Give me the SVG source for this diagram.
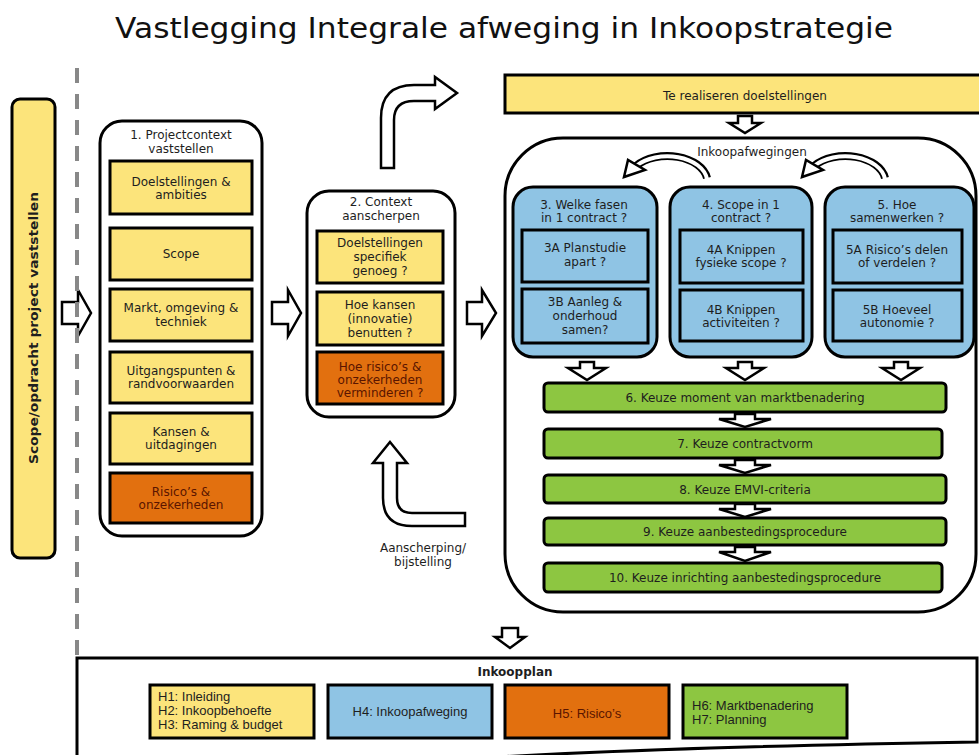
<svg xmlns="http://www.w3.org/2000/svg" width="979" height="755" viewBox="0 0 979 755">
<style>
  text { font-family: "DejaVu Sans", Verdana, sans-serif; font-size: 12px; fill: #1e1e1e; text-anchor: middle; }
  .title { font-size: 29px; fill: #111; }
  .bold { font-weight: bold; }
  .outer { fill: #fff; stroke: #000; stroke-width: 3; }
  .yel { fill: #fce47b; stroke: #000; stroke-width: 3; }
  .ora { fill: #e2700f; stroke: #000; stroke-width: 3; }
  .blu { fill: #8fc4e4; stroke: #000; stroke-width: 3; }
  .grn { fill: #8dc641; stroke: #000; stroke-width: 3; }
  .arr { fill: #fff; stroke: #000; stroke-width: 2.5; stroke-linejoin: miter; }
  .dark { fill: #5a1500; }
  .plan { font-family: "Liberation Sans", Arial, sans-serif; font-size: 13px; }
  .left { text-anchor: start; }
</style>

<text class="title" x="504" y="38" textLength="778" lengthAdjust="spacingAndGlyphs">Vastlegging Integrale afweging in Inkoopstrategie</text>

<g id="scope-bar">
  <rect class="yel" x="12" y="99" width="43" height="459" rx="8"/>
  <text class="bold" transform="translate(38,328) rotate(-90)" x="0" y="0" font-size="12.5" textLength="272" lengthAdjust="spacingAndGlyphs">Scope/opdracht project vaststellen</text>
</g>

<g id="projectcontext">
  <rect class="outer" x="100" y="121" width="162" height="415" rx="22"/>
  <text x="181" y="139">1. Projectcontext</text>
  <text x="181" y="153">vaststellen</text>
  <rect class="yel" x="110" y="161" width="142" height="53"/>
  <text x="181" y="186">Doelstellingen &amp;</text>
  <text x="181" y="199">ambities</text>
  <rect class="yel" x="110" y="228" width="142" height="52"/>
  <text x="181" y="258">Scope</text>
  <rect class="yel" x="110" y="289" width="142" height="52"/>
  <text x="181" y="312">Markt, omgeving &amp;</text>
  <text x="181" y="326">techniek</text>
  <rect class="yel" x="110" y="352" width="142" height="51"/>
  <text x="181" y="375">Uitgangspunten &amp;</text>
  <text x="181" y="388">randvoorwaarden</text>
  <rect class="yel" x="110" y="413" width="142" height="51"/>
  <text x="181" y="436">Kansen &amp;</text>
  <text x="181" y="449">uitdagingen</text>
  <rect class="ora" x="110" y="473" width="142" height="50"/>
  <text class="dark" x="181" y="496">Risico’s &amp;</text>
  <text class="dark" x="181" y="509">onzekerheden</text>
</g>

<g id="context">
  <rect class="outer" x="307" y="191" width="148" height="226" rx="22"/>
  <text x="381" y="206">2. Context</text>
  <text x="381" y="220">aanscherpen</text>
  <rect class="yel" x="317" y="231" width="126" height="52"/>
  <text x="380" y="247">Doelstellingen</text>
  <text x="380" y="261">specifiek</text>
  <text x="380" y="275">genoeg ?</text>
  <rect class="yel" x="317" y="292" width="126" height="53"/>
  <text x="380" y="309">Hoe kansen</text>
  <text x="380" y="323">(innovatie)</text>
  <text x="380" y="337">benutten ?</text>
  <rect class="ora" x="317" y="352" width="126" height="52"/>
  <text class="dark" x="380" y="371">Hoe risico’s &amp;</text>
  <text class="dark" x="380" y="384">onzekerheden</text>
  <text class="dark" x="380" y="397">verminderen ?</text>
</g>

<g id="aanscherping-label">
  <text x="423" y="552">Aanscherping/</text>
  <text x="423" y="566">bijstelling</text>
</g>

<g id="doelstellingen">
  <rect class="yel" x="505" y="75" width="480" height="38"/>
  <text x="745" y="100">Te realiseren doelstellingen</text>
</g>

<g id="inkoopafwegingen">
  <rect class="outer" x="505" y="138" width="471" height="474" rx="58"/>
  <text x="752" y="156">Inkoopafwegingen</text>
  <path d="M707 178 A40 26 0 0 0 636 166" fill="none" stroke="#000" stroke-width="8"/>
  <path d="M707 179 A40 26 0 0 0 636 166" fill="none" stroke="#fff" stroke-width="4"/>
  <polygon class="arr" stroke-width="2" points="624,177 628,160 645,170"/>
  <path d="M885 178 A40 26 0 0 0 814 166" fill="none" stroke="#000" stroke-width="8"/>
  <path d="M885 179 A40 26 0 0 0 814 166" fill="none" stroke="#fff" stroke-width="4"/>
  <polygon class="arr" stroke-width="2" points="802,177 806,160 823,170"/>
</g>

<g id="fasen">
  <rect class="blu" x="513" y="187" width="144" height="170" rx="20"/>
  <text x="584" y="209">3. Welke fasen</text>
  <text x="584" y="222">in 1 contract ?</text>
  <rect class="blu" x="522" y="230" width="126" height="52"/>
  <text x="585" y="252">3A Planstudie</text>
  <text x="585" y="266">apart ?</text>
  <rect class="blu" x="522" y="289" width="126" height="54"/>
  <text x="585" y="306">3B Aanleg &amp;</text>
  <text x="585" y="320">onderhoud</text>
  <text x="585" y="334">samen?</text>
</g>

<g id="scope-contract">
  <rect class="blu" x="670" y="187" width="142" height="170" rx="20"/>
  <text x="741" y="209">4. Scope in 1</text>
  <text x="741" y="222">contract ?</text>
  <rect class="blu" x="680" y="230" width="123" height="53"/>
  <text x="741" y="254">4A Knippen</text>
  <text x="741" y="267">fysieke scope ?</text>
  <rect class="blu" x="680" y="290" width="123" height="51"/>
  <text x="741" y="314">4B Knippen</text>
  <text x="741" y="327">activiteiten ?</text>
</g>

<g id="samenwerken">
  <rect class="blu" x="825" y="187" width="149" height="170" rx="20"/>
  <text x="897" y="209">5. Hoe</text>
  <text x="897" y="222">samenwerken ?</text>
  <rect class="blu" x="833" y="230" width="129" height="53"/>
  <text x="897" y="254">5A Risico’s delen</text>
  <text x="897" y="267">of verdelen ?</text>
  <rect class="blu" x="833" y="290" width="129" height="51"/>
  <text x="897" y="314">5B Hoeveel</text>
  <text x="897" y="327">autonomie ?</text>
</g>

<g id="keuze-6"><rect class="grn" x="544" y="383" width="402" height="29" rx="4"/><text x="745" y="402">6. Keuze moment van marktbenadering</text></g>
<g id="keuze-7"><rect class="grn" x="544" y="429" width="398" height="29" rx="4"/><text x="745" y="448">7. Keuze contractvorm</text></g>
<g id="keuze-8"><rect class="grn" x="544" y="475" width="402" height="28" rx="4"/><text x="745" y="494">8. Keuze EMVI-criteria</text></g>
<g id="keuze-9"><rect class="grn" x="544" y="518" width="402" height="27" rx="4"/><text x="745" y="536">9. Keuze aanbestedingsprocedure</text></g>
<g id="keuze-10"><rect class="grn" x="544" y="563" width="398" height="29" rx="4"/><text x="745" y="582">10. Keuze inrichting aanbestedingsprocedure</text></g>

<g id="inkoopplan">
  <path d="M77 758 L77 658 L977 658 L977 742 C850 744 650 748 480 758" fill="#fff" stroke="#000" stroke-width="3"/>
  <text class="bold" x="515" y="676" font-size="13">Inkoopplan</text>
  <rect class="yel" x="150" y="685" width="164" height="53"/>
  <text class="plan left" x="158" y="701">H1: Inleiding</text>
  <text class="plan left" x="158" y="715">H2: Inkoopbehoefte</text>
  <text class="plan left" x="158" y="729">H3: Raming &amp; budget</text>
  <rect class="blu" x="328" y="685" width="164" height="53"/>
  <text class="plan" x="410" y="716">H4: Inkoopafweging</text>
  <rect class="ora" x="505" y="685" width="164" height="53"/>
  <text class="plan dark" x="587" y="718">H5: Risico’s</text>
  <rect class="grn" x="683" y="685" width="164" height="53"/>
  <text class="plan left" x="692" y="710">H6: Marktbenadering</text>
  <text class="plan left" x="692" y="724">H7: Planning</text>
</g>

<g id="connectors">
  <polygon class="arr" points="62,302 78,302 78,290 91,313 78,336 78,324 62,324"/>
  <polygon class="arr" points="272,302 288,302 288,290 301,313 288,336 288,324 272,324"/>
  <polygon class="arr" points="467,302 482,302 482,290 496,313 482,336 482,324 467,324"/>
  <path class="arr" d="M381 168 L381 118 Q381 85 414 85 L435 85 L435 77 L457 93 L435 109 L435 101 L414 101 Q394 101 394 120 L394 168 Z"/>
  <path class="arr" d="M390 442 L407 463 L397 463 L397 498 Q397 513 412 513 L465 513 L465 526 L412 526 Q383 526 383 498 L383 463 L373 463 Z"/>
  <polygon class="arr" points="738,116 752,116 752,123 761,123 745,133 729,123 738,123"/>
  <polygon class="arr" points="580,362 594,362 594,368 606,368 587,380 568,368 580,368"/>
  <polygon class="arr" points="738,362 752,362 752,368 764,368 745,380 726,368 738,368"/>
  <polygon class="arr" points="894,362 908,362 908,368 920,368 901,380 882,368 894,368"/>
  <polygon class="arr" points="735,414 755,414 755,419 771,419 745,427 719,419 735,419"/>
  <polygon class="arr" points="735,460 755,460 755,465 771,465 745,473 719,465 735,465"/>
  <polygon class="arr" points="735,504 755,504 755,509 771,509 745,517 719,509 735,509"/>
  <polygon class="arr" points="735,547 755,547 755,552 771,552 745,561 719,552 735,552"/>
  <polygon class="arr" points="502,628 518,628 518,637 525,637 510,648 495,637 502,637"/>
</g>

<line x1="77" y1="68" x2="77" y2="656" stroke="#888" stroke-width="4" stroke-dasharray="15 11"/>
</svg>
